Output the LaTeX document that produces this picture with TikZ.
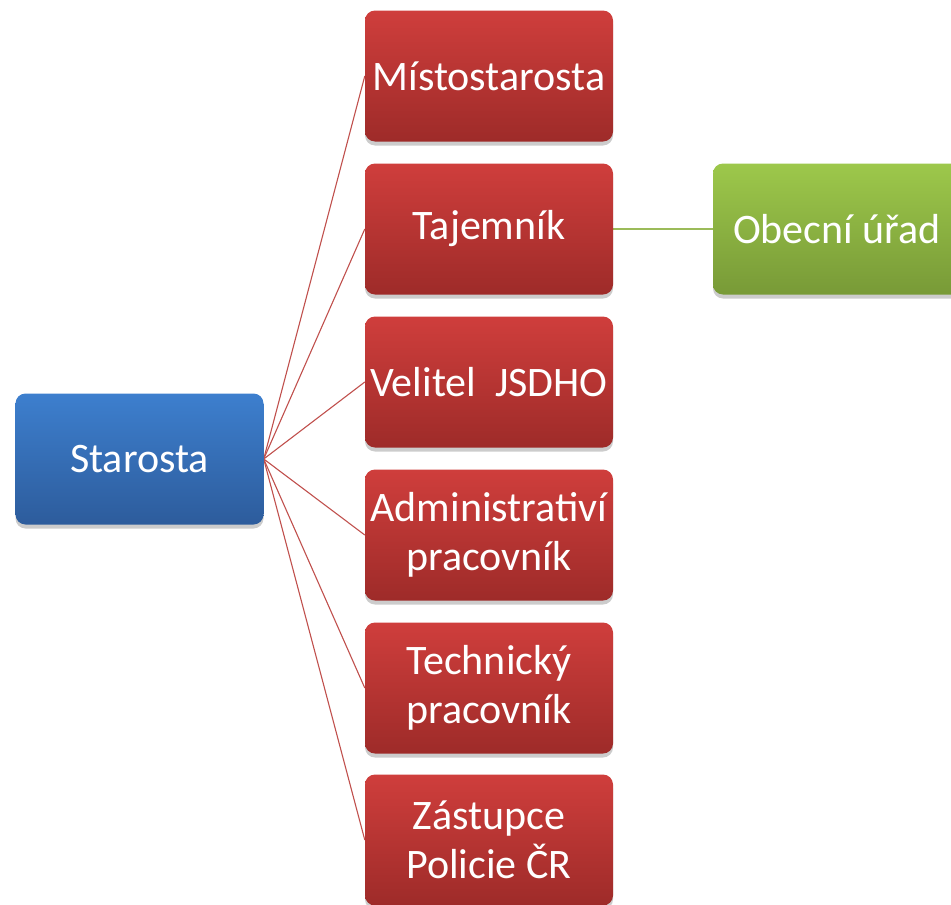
\documentclass[tikz,border=0pt]{standalone}
\usepackage{fontspec}
\setmainfont{Carlito}
\usetikzlibrary{shadows,backgrounds}
\definecolor{bluetop}{HTML}{3D7FCE}
\definecolor{bluebot}{HTML}{2D5C9C}
\definecolor{redtop}{HTML}{CF3E3C}
\definecolor{redbot}{HTML}{9E2B29}
\definecolor{greentop}{HTML}{9DC84B}
\definecolor{greenbot}{HTML}{789A37}
\definecolor{redline}{HTML}{C0504D}
\definecolor{greenline}{HTML}{9BBB59}
\tikzset{
  box/.style={rounded corners=10pt, minimum width=248pt, minimum height=131pt,
    inner sep=0pt, align=center, text=white,
    font=\fontsize{42}{49}\selectfont,
    drop shadow={shadow xshift=0pt, shadow yshift=-4pt, opacity=0.2, fill=black}},
  bluebox/.style={box, top color=bluetop, bottom color=bluebot},
  redbox/.style={box, top color=redtop, bottom color=redbot},
  greenbox/.style={box, top color=greentop, bottom color=greenbot},
  redconn/.style={draw=redline, line width=1.1pt},
  greenconn/.style={draw=greenline, line width=1.8pt}
}
\begin{document}
\begin{tikzpicture}[x=1pt,y=-1pt]
\useasboundingbox (0,0) rectangle (951,905);
\node[bluebox] (st) at (139.5,459) {Starosta};
\node[redbox] (r1) at (489,76) {Místostarosta};
\node[redbox] (r2) at (489,229) {Tajemník};
\node[redbox] (r3) at (489,382) {Velitel\ \ JSDHO};
\node[redbox] (r4) at (489,535) {Administrativí\\pracovník};
\node[redbox] (r5) at (489,688) {Technický\\pracovník};
\node[redbox] (r6) at (489,840) {Zástupce\\Policie ČR};
\node[greenbox] (ou) at (837,229) {Obecní úřad};
\begin{scope}[on background layer]
\foreach \n in {r1,r2,r3,r4,r5,r6}
  \draw[redconn] (st.east) -- (\n.west);
\draw[greenconn] (r2.east) -- (ou.west);
\end{scope}
\end{tikzpicture}
\end{document}
